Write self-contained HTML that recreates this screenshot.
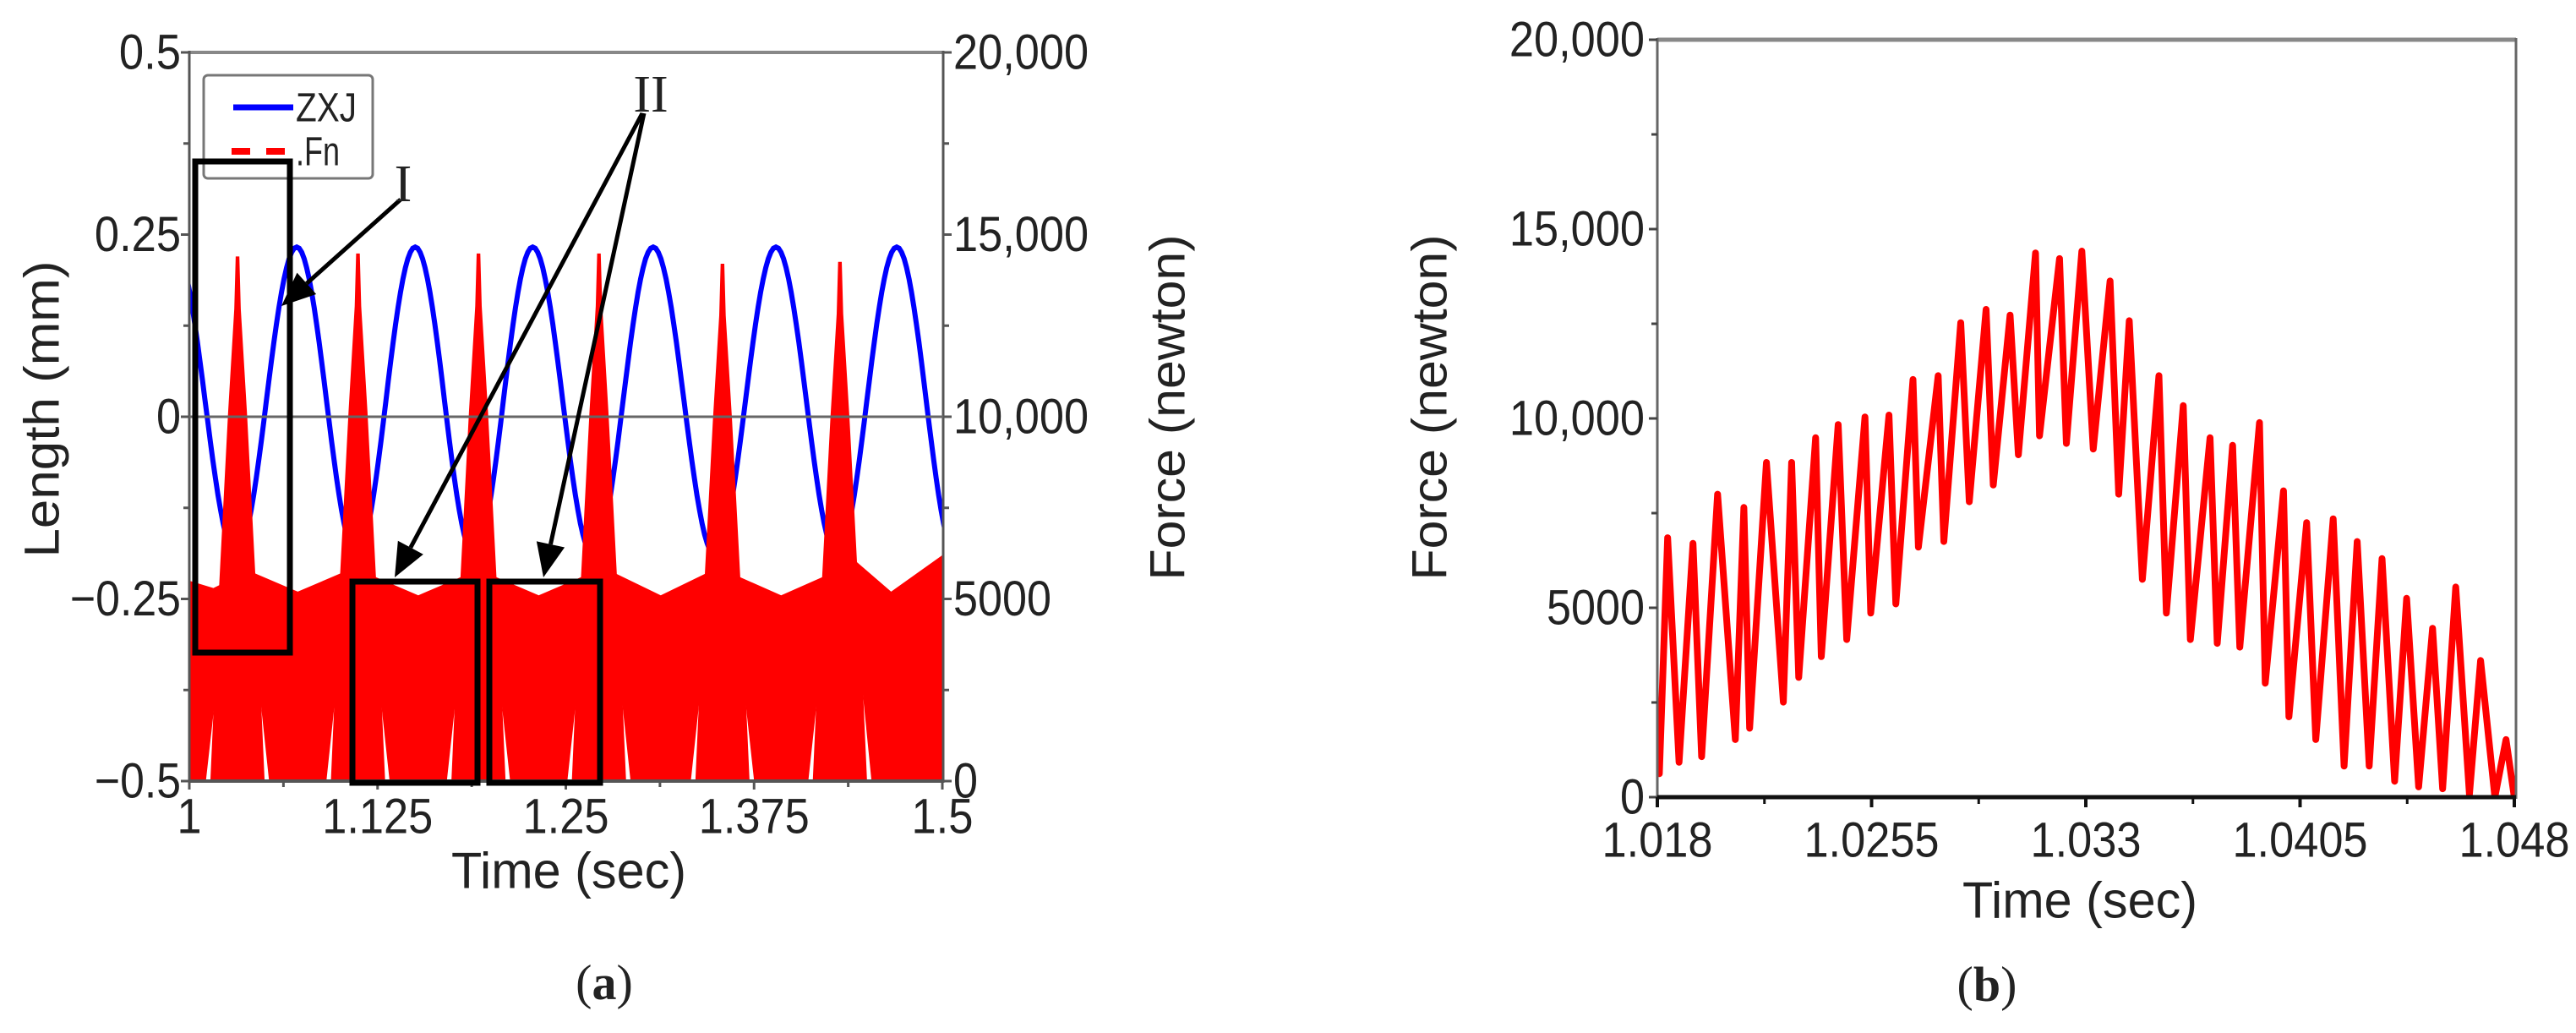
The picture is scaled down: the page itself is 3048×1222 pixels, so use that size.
<!DOCTYPE html>
<html><head><meta charset="utf-8">
<style>
html,body{margin:0;padding:0;background:#fff;}
svg{display:block;}
text{font-family:"Liberation Sans",sans-serif;fill:#222;}
.ser{font-family:"Liberation Serif",serif;}
</style></head>
<body>
<svg id="fig" width="3048" height="1222" viewBox="0 0 3048 1222" xmlns="http://www.w3.org/2000/svg">
<defs>
<clipPath id="clipL"><rect x="224" y="62" width="892" height="862"/></clipPath>
<clipPath id="clipR"><rect x="1961" y="47" width="1016" height="898"/></clipPath>
</defs>
<rect width="3048" height="1222" fill="#fff"/>
<g id="chartA"></g>
<g id="chartB"></g>
</svg>
<script>
// ---------- Chart (a) data ----------
const zxjT = [0.990, 1.031, 1.0713, 1.111, 1.150, 1.189, 1.228, 1.268, 1.308, 1.349, 1.3895, 1.430, 1.4697, 1.509];
const zxjV = [0.233, -0.19, 0.233, -0.19, 0.233, -0.19, 0.233, -0.19, 0.233, -0.19, 0.233, -0.19, 0.233, -0.19];
const spikeT = [1.032, 1.112, 1.192, 1.272, 1.354, 1.432];
const spikeV = [14400, 14480, 14480, 14480, 14200, 14250];
const bandEdgeV = [5500, 5800, 5700, 5700, 5800, 5700, 6200];
const bandMidV = [5300, 5200, 5100, 5100, 5100, 5100, 5200];
const lenTicks = [0.5, 0.25, 0, -0.25, -0.5];
const lenTickLabels = ["0.5", "0.25", "0", "\u22120.25", "\u22120.5"];
const forceTicksA = [20000, 15000, 10000, 5000, 0];
const forceTickLabelsA = ["20,000", "15,000", "10,000", "5000", "0"];
const timeTicksA = [1, 1.125, 1.25, 1.375, 1.5];
const timeTickLabelsA = ["1", "1.125", "1.25", "1.375", "1.5"];
// ---------- Chart (b) data ----------
const fnT = [1.018,1.01807,1.01836,1.01876,1.01925,1.01955,1.02011,1.02073,1.02103,1.02123,1.02182,1.02241,1.02270,1.02295,1.02354,1.02374,1.02433,1.02463,1.02527,1.02547,1.02611,1.02635,1.02695,1.02714,1.02783,1.02803,1.02862,1.02892,1.02951,1.02976,1.03035,1.03064,1.03124,1.03138,1.03208,1.03232,1.03286,1.03326,1.03385,1.03415,1.03452,1.03498,1.03556,1.03582,1.03641,1.03666,1.03735,1.03760,1.03814,1.03839,1.03908,1.03928,1.03992,1.04011,1.04073,1.04105,1.04166,1.04204,1.04250,1.04292,1.04337,1.04381,1.04423,1.04465,1.04514,1.04549,1.04595,1.04643,1.04682,1.04732,1.04771,1.04800];
const fnV = [1300,620,6850,920,6700,1070,8000,1520,7650,1820,8840,2510,8840,3160,9490,3710,9840,4160,10040,4860,10090,5100,11030,6600,11130,6750,12530,7800,12880,8240,12730,9040,14370,9540,14220,9340,14420,9190,13630,8000,12580,5750,11130,4860,10340,4160,9490,4060,9290,3960,9890,3010,8090,2120,7250,1520,7350,820,6750,820,6300,420,5250,270,4460,220,5550,70,3610,0,1520,0];
const forceTicksB = [20000, 15000, 10000, 5000, 0];
const forceTickLabelsB = ["20,000", "15,000", "10,000", "5000", "0"];
const timeTicksB = [1.018, 1.0255, 1.033, 1.0405, 1.048];
const timeTickLabelsB = ["1.018", "1.0255", "1.033", "1.0405", "1.048"];

const NS = "http://www.w3.org/2000/svg";
function mk(parent, tag, attrs) {
  const e = document.createElementNS(NS, tag);
  for (const k in attrs) e.setAttribute(k, attrs[k]);
  parent.appendChild(e);
  return e;
}
function txtW(s, fs) {
  let w = 0;
  for (const c of s) w += (c === "," || c === ".") ? 0.26 : 0.5;
  return w * fs;
}
const xL = t => 224 + (t - 1) / 0.5 * 891;
const yLen = v => 493 - v / 0.5 * 431;
const yF = v => 924 - v / 20000 * 862;
const xR = t => 1961 + (t - 1.018) / 0.03 * 1014;
const yR = v => 943 - v / 20000 * 896;

// ================= Chart A =================
const A = document.getElementById("chartA");
let d = "";
for (let i = 0; i < zxjT.length - 1; i++) {
  const t0 = zxjT[i], t1 = zxjT[i + 1], v0 = zxjV[i], v1 = zxjV[i + 1];
  for (let k = 0; k <= 24; k++) {
    const f = k / 24, t = t0 + (t1 - t0) * f;
    const v = v0 + (v1 - v0) * (1 - Math.cos(Math.PI * f)) / 2;
    d += (d ? "L" : "M") + xL(t).toFixed(1) + "," + yLen(v).toFixed(1);
  }
}
const zxj = mk(A, "path", {d: d, fill: "none", stroke: "#0000ff", "stroke-width": 6, "clip-path": "url(#clipL)"});


const fnG = mk(A, "g", {"clip-path": "url(#clipL)", fill: "#ff0000"});


for (let k = 0; k < bandEdgeV.length; k++) {
  const a = k === 0 ? 1.0 : spikeT[k - 1];
  const b = k === bandEdgeV.length - 1 ? 1.5 : spikeT[k];
  const pts = [];
  if (k === 0) { pts.push([a, 0], [a, bandEdgeV[k]]); }
  else { pts.push([a + 0.021, 0], [a + 0.006, bandEdgeV[k]]); }
  pts.push([(a + b) / 2, bandMidV[k]]);
  if (k === bandEdgeV.length - 1) { pts.push([b, bandEdgeV[k]], [b, 0]); }
  else { pts.push([b - 0.006, bandEdgeV[k]], [b - 0.021, 0]); }
  const p = mk(fnG, "polygon", {points: pts.map(q => xL(q[0]).toFixed(1) + "," + yF(q[1]).toFixed(1)).join(" ")});
  
  
}
for (let i = 0; i < spikeT.length; i++) {
  const s = spikeT[i], pk = spikeV[i], hw = 0.018;
  const pts = [[s - hw, 0], [s - hw * 0.7, pk * 0.35], [s - hw * 0.35, pk * 0.7], [s - hw * 0.12, pk * 0.9], [s - 0.0012, pk], [s + 0.0012, pk], [s + hw * 0.12, pk * 0.9], [s + hw * 0.35, pk * 0.7], [s + hw * 0.7, pk * 0.35], [s + hw, 0]];
  const p = mk(fnG, "polygon", {points: pts.map(q => xL(q[0]).toFixed(1) + "," + yF(q[1]).toFixed(1)).join(" ")});
  
  
}
mk(A, "line", {x1: 224, y1: 62, x2: 1116, y2: 62, stroke: "#888", "stroke-width": 4});
mk(A, "line", {x1: 224, y1: 60, x2: 224, y2: 926, stroke: "#555", "stroke-width": 3});
mk(A, "line", {x1: 1116, y1: 60, x2: 1116, y2: 926, stroke: "#555", "stroke-width": 3});
mk(A, "line", {x1: 224, y1: 924, x2: 1116, y2: 924, stroke: "#555", "stroke-width": 4});
mk(A, "line", {x1: 224, y1: yLen(0), x2: 1116, y2: yLen(0), stroke: "#666", "stroke-width": 3});
for (let i = 0; i < lenTicks.length; i++) {
  const y = yLen(lenTicks[i]);
  mk(A, "line", {x1: 214, y1: y, x2: 224, y2: y, stroke: "#555", "stroke-width": 3});
  const s = lenTickLabels[i];
  const t = mk(A, "text", {x: 214, y: y, "font-size": 58, "text-anchor": "end", "dominant-baseline": "central", textLength: txtW(s, 58), lengthAdjust: "spacingAndGlyphs"});
  t.textContent = s;
  
  
  if (i < lenTicks.length - 1) {
    const ym = yLen((lenTicks[i] + lenTicks[i + 1]) / 2);
    mk(A, "line", {x1: 217, y1: ym, x2: 224, y2: ym, stroke: "#555", "stroke-width": 3});
  }
}
for (let i = 0; i < forceTicksA.length; i++) {
  const y = yF(forceTicksA[i]);
  mk(A, "line", {x1: 1116, y1: y, x2: 1126, y2: y, stroke: "#555", "stroke-width": 3});
  const s = forceTickLabelsA[i];
  const t = mk(A, "text", {x: 1128, y: y, "font-size": 58, "dominant-baseline": "central", textLength: txtW(s, 58), lengthAdjust: "spacingAndGlyphs"});
  t.textContent = s;
  
  
  if (i < forceTicksA.length - 1) {
    const ym = yF((forceTicksA[i] + forceTicksA[i + 1]) / 2);
    mk(A, "line", {x1: 1116, y1: ym, x2: 1123, y2: ym, stroke: "#555", "stroke-width": 3});
  }
}
for (let i = 0; i < timeTicksA.length; i++) {
  const x = xL(timeTicksA[i]);
  mk(A, "line", {x1: x, y1: 924, x2: x, y2: 934, stroke: "#555", "stroke-width": 3});
  const s = timeTickLabelsA[i];
  const t = mk(A, "text", {x: x, y: 966, "font-size": 58, "text-anchor": "middle", "dominant-baseline": "central", textLength: txtW(s, 58), lengthAdjust: "spacingAndGlyphs"});
  t.textContent = s;
  
  
  if (i < timeTicksA.length - 1) {
    const xm = xL((timeTicksA[i] + timeTicksA[i + 1]) / 2);
    mk(A, "line", {x1: xm, y1: 924, x2: xm, y2: 931, stroke: "#555", "stroke-width": 3});
  }
}
let tt = mk(A, "text", {x: 0, y: 0, "font-size": 58, "text-anchor": "middle", "dominant-baseline": "central", transform: "translate(50,484) rotate(-90)", textLength: 351, lengthAdjust: "spacingAndGlyphs", fill: "#333"});
tt.textContent = "Length (mm)";


tt = mk(A, "text", {x: 0, y: 0, "font-size": 58, "text-anchor": "middle", "dominant-baseline": "central", transform: "translate(1382,482) rotate(-90)", textLength: 409, lengthAdjust: "spacingAndGlyphs", fill: "#333"});
tt.textContent = "Force (newton)";


tt = mk(A, "text", {x: 673, y: 1030, "font-size": 60, "text-anchor": "middle", "dominant-baseline": "central", textLength: 278, lengthAdjust: "spacingAndGlyphs"});
tt.textContent = "Time (sec)";


const lg = mk(A, "g", {});


mk(lg, "rect", {x: 241, y: 89, width: 200, height: 122, rx: 5, fill: "#fff", stroke: "#777", "stroke-width": 3});
mk(lg, "line", {x1: 276, y1: 127, x2: 347, y2: 127, stroke: "#0000ff", "stroke-width": 7});
let lt = mk(lg, "text", {x: 350, y: 128, "font-size": 48, "dominant-baseline": "central", fill: "#4040ff", textLength: 72, lengthAdjust: "spacingAndGlyphs"});
lt.textContent = "ZXJ";


mk(lg, "line", {x1: 274, y1: 179, x2: 337, y2: 179, stroke: "#ff0000", "stroke-width": 8, "stroke-dasharray": "22 19"});
lt = mk(lg, "text", {x: 350, y: 180, "font-size": 48, "dominant-baseline": "central", fill: "#ff2020", textLength: 52, lengthAdjust: "spacingAndGlyphs"});
lt.textContent = ".Fn";


const boxes = [[231, 191, 112, 581], [417, 688, 148, 238], [579, 688, 131, 238]];
for (const b of boxes) {
  const r = mk(A, "rect", {x: b[0], y: b[1], width: b[2], height: b[3], fill: "none", stroke: "#000", "stroke-width": 7});
  
  
}
function arrow(x1, y1, x2, y2) {
  const ang = Math.atan2(y2 - y1, x2 - x1), L = 40, W = 17;
  const bx = x2 - L * Math.cos(ang), by = y2 - L * Math.sin(ang);
  mk(A, "line", {x1: x1, y1: y1, x2: bx, y2: by, stroke: "#000", "stroke-width": 5});
  const px = -Math.sin(ang) * W, py = Math.cos(ang) * W;
  const p = mk(A, "polygon", {points: `${x2},${y2} ${bx + px},${by + py} ${bx - px},${by - py}`, fill: "#000"});
  
  
}
arrow(474, 236, 333, 362);
arrow(760, 134, 467, 683);
arrow(762, 134, 643, 683);
tt = mk(A, "text", {x: 477, y: 218, "font-size": 62, "text-anchor": "middle", "dominant-baseline": "central", class: "ser", fill: "#222"});
tt.textContent = "I";


tt = mk(A, "text", {x: 770, y: 112, "font-size": 62, "text-anchor": "middle", "dominant-baseline": "central", class: "ser", fill: "#222"});
tt.textContent = "II";


tt = mk(A, "text", {x: 715, y: 1162, "font-size": 58, "text-anchor": "middle", "dominant-baseline": "central", class: "ser", fill: "#000"});
tt.innerHTML = '(<tspan font-weight="bold">a</tspan>)';



// ================= Chart B =================
const B = document.getElementById("chartB");
const fnPts = fnT.map((t, i) => xR(t).toFixed(1) + "," + yR(fnV[i]).toFixed(1)).join(" ");
const fnLine = mk(B, "polyline", {points: fnPts, fill: "none", stroke: "#ff0000", "stroke-width": 8, "stroke-linejoin": "round", "clip-path": "url(#clipR)"});


mk(B, "line", {x1: 1961, y1: 47, x2: 2977, y2: 47, stroke: "#888", "stroke-width": 5});
mk(B, "line", {x1: 1961, y1: 45, x2: 1961, y2: 945, stroke: "#666", "stroke-width": 3});
mk(B, "line", {x1: 2977, y1: 45, x2: 2977, y2: 945, stroke: "#666", "stroke-width": 3});
mk(B, "line", {x1: 1961, y1: 943, x2: 2977, y2: 943, stroke: "#111", "stroke-width": 5});
for (let i = 0; i < forceTicksB.length; i++) {
  const y = yR(forceTicksB[i]);
  mk(B, "line", {x1: 1951, y1: y, x2: 1961, y2: y, stroke: "#444", "stroke-width": 3});
  const s = forceTickLabelsB[i];
  const t = mk(B, "text", {x: 1946, y: y, "font-size": 58, "text-anchor": "end", "dominant-baseline": "central", textLength: txtW(s, 58), lengthAdjust: "spacingAndGlyphs"});
  t.textContent = s;
  
  
  if (i < forceTicksB.length - 1) {
    const ym = yR((forceTicksB[i] + forceTicksB[i + 1]) / 2);
    mk(B, "line", {x1: 1954, y1: ym, x2: 1961, y2: ym, stroke: "#444", "stroke-width": 3});
  }
}
for (let i = 0; i < timeTicksB.length; i++) {
  const x = xR(timeTicksB[i]);
  mk(B, "line", {x1: x, y1: 943, x2: x, y2: 955, stroke: "#111", "stroke-width": 4});
  const s = timeTickLabelsB[i];
  const t = mk(B, "text", {x: x, y: 994, "font-size": 58, "text-anchor": "middle", "dominant-baseline": "central", textLength: txtW(s, 58), lengthAdjust: "spacingAndGlyphs"});
  t.textContent = s;
  
  
  if (i < timeTicksB.length - 1) {
    const xm = xR((timeTicksB[i] + timeTicksB[i + 1]) / 2);
    mk(B, "line", {x1: xm, y1: 943, x2: xm, y2: 951, stroke: "#111", "stroke-width": 3});
  }
}
tt = mk(B, "text", {x: 0, y: 0, "font-size": 58, "text-anchor": "middle", "dominant-baseline": "central", transform: "translate(1692,482) rotate(-90)", textLength: 409, lengthAdjust: "spacingAndGlyphs", fill: "#333"});
tt.textContent = "Force (newton)";


tt = mk(B, "text", {x: 2461, y: 1065, "font-size": 60, "text-anchor": "middle", "dominant-baseline": "central", textLength: 278, lengthAdjust: "spacingAndGlyphs"});
tt.textContent = "Time (sec)";


tt = mk(B, "text", {x: 2351, y: 1164, "font-size": 58, "text-anchor": "middle", "dominant-baseline": "central", class: "ser", fill: "#000"});
tt.innerHTML = '(<tspan font-weight="bold">b</tspan>)';


</script>
</body></html>
